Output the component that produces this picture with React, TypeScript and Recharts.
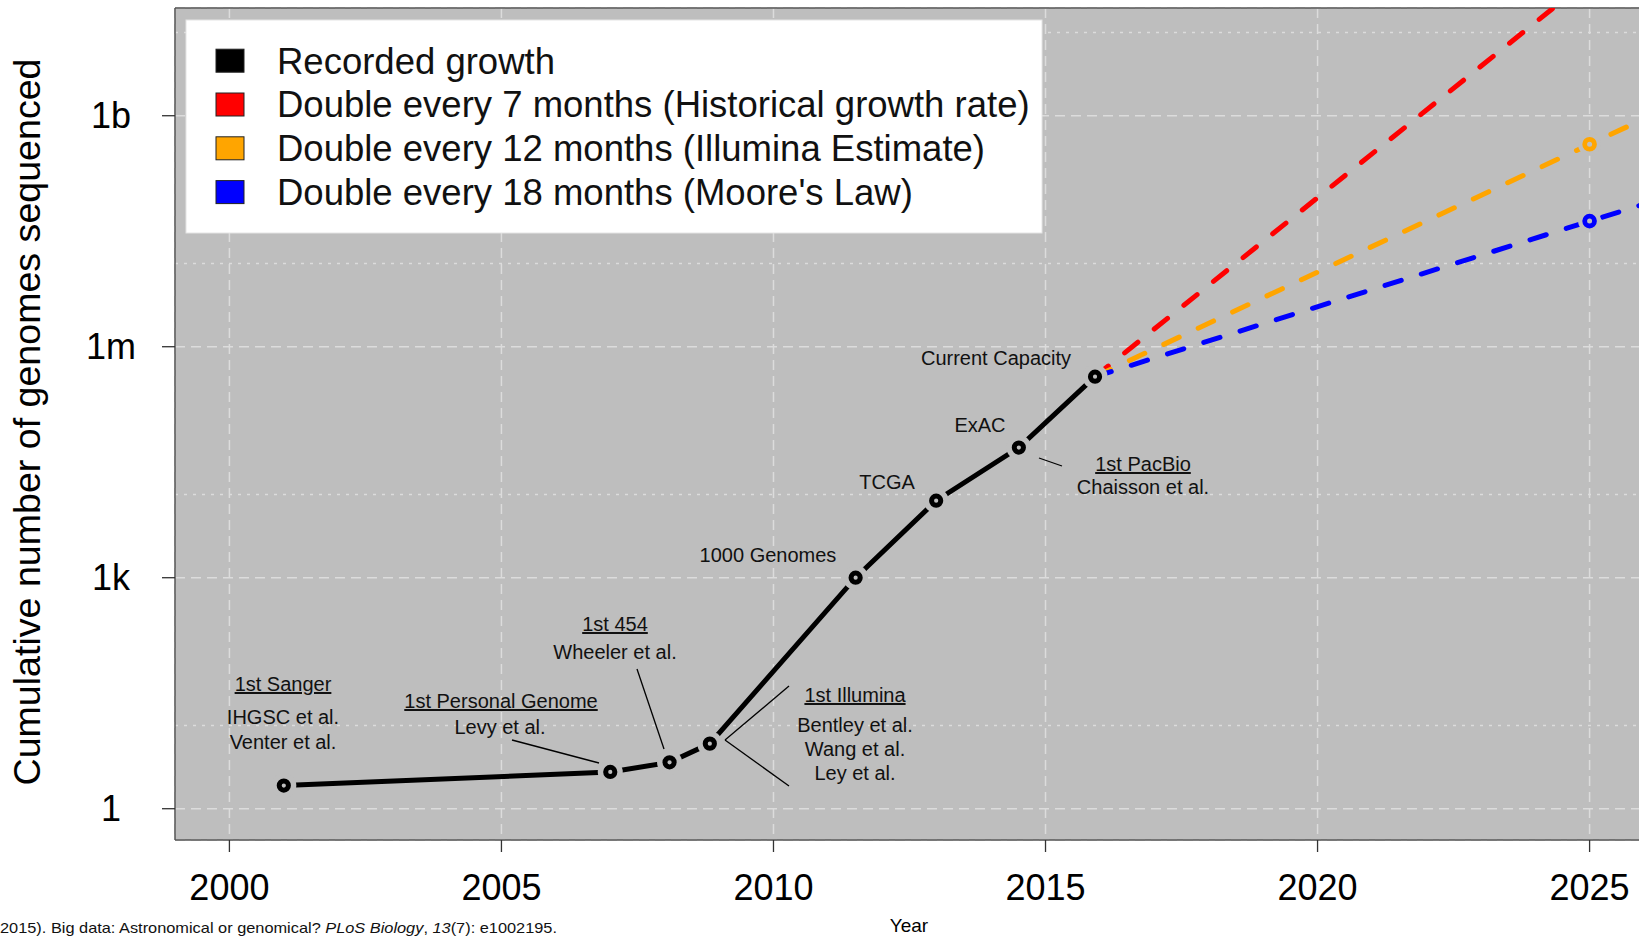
import React from 'react'
import { LineChart, Line, XAxis, YAxis, CartesianGrid, ReferenceLine } from 'recharts'

// recorded growth (cumulative genomes)
const recordedYears = [2001, 2007, 2008.09, 2008.83, 2011.51, 2012.99, 2014.51, 2015.91]
const recordedGenomes = [2, 3, 4, 7, 1000, 10000, 49000, 408000]

// projections from current capacity
const projectionYears = [2015.91, 2025, 2026]
const double7 = [408000, 6.0e10, 2.2e11]
const double12 = [408000, 4.26e8, 9.1e8]
const double18 = [408000, 4.28e7, 7.1e7]

const yearTicks = [2000, 2005, 2010, 2015, 2020, 2025]
const genomeTicks = [1, 1e3, 1e6, 1e9]
const genomeTickLabels = ['1', '1k', '1m', '1b']
const minorLevels = [12, 12e3, 12e6, 12e9]

const legendLabels = [
  'Recorded growth',
  'Double every 7 months (Historical growth rate)',
  'Double every 12 months (Illumina Estimate)',
  "Double every 18 months (Moore's Law)",
]
const legendColors = ['#000000', '#FF0000', '#FFA500', '#0000FF']

const FONT = '"Liberation Sans", Arial, Helvetica, sans-serif'
const PANEL = '#BEBEBE'
const GRID = '#DCDCDC'
const Y_MIN = 0.3923
const Y_MAX = 2.506e10
const MARK_YEAR = projectionYears[1]

const recorded = recordedYears.map((year, i) => ({ year, value: recordedGenomes[i] }))
const toSeries = (vals: number[]) => projectionYears.map((year, i) => ({ year, value: vals[i] }))

const notes = [
  { text: '1st Sanger', x: 283, y: 691, u: true },
  { text: 'IHGSC et al.', x: 283, y: 724 },
  { text: 'Venter et al.', x: 283, y: 749 },
  { text: '1st Personal Genome', x: 501, y: 708, u: true },
  { text: 'Levy et al.', x: 500, y: 734 },
  { text: '1st 454', x: 615, y: 631, u: true },
  { text: 'Wheeler et al.', x: 615, y: 659 },
  { text: '1st Illumina', x: 855, y: 702, u: true },
  { text: 'Bentley et al.', x: 855, y: 732 },
  { text: 'Wang et al.', x: 855, y: 756 },
  { text: 'Ley et al.', x: 855, y: 780 },
  { text: '1000 Genomes', x: 768, y: 562 },
  { text: 'TCGA', x: 887, y: 489 },
  { text: 'ExAC', x: 980, y: 432 },
  { text: 'Current Capacity', x: 996, y: 365 },
  { text: '1st PacBio', x: 1143, y: 471, u: true },
  { text: 'Chaisson et al.', x: 1143, y: 494 },
]

const leaders = [
  [512, 740, 599, 763],
  [637, 669, 664, 749],
  [789, 686, 725, 740],
  [725, 740, 789, 786],
  [1039, 458, 1062, 466],
]

const RecordedDot = (props: any) => {
  const { cx, cy, key } = props
  return (
    <g key={key}>
      <circle cx={cx} cy={cy} r={12.5} fill={PANEL} />
      <circle cx={cx} cy={cy} r={4.6} fill="none" stroke="#000" strokeWidth={5} />
    </g>
  )
}

const ringDot = (color: string) => (props: any) => {
  const { cx, cy, key, payload } = props
  if (payload.year !== MARK_YEAR) return <g key={key} />
  return (
    <g key={key}>
      <circle cx={cx} cy={cy} r={11.5} fill={PANEL} />
      <circle cx={cx} cy={cy} r={4.9} fill="none" stroke={color} strokeWidth={4.8} />
    </g>
  )
}

const XTick = (props: any) => {
  const { x, y, payload } = props
  return (
    <text x={x} y={y + 48} textAnchor="middle" fontSize={36} fontFamily={FONT} fill="#000">
      {payload.value}
    </text>
  )
}

const YTick = (props: any) => {
  const { x, y, payload } = props
  const i = genomeTicks.indexOf(payload.value)
  return (
    <text x={x - 51} y={y + 12} textAnchor="middle" fontSize={36} fontFamily={FONT} fill="#000">
      {genomeTickLabels[i]}
    </text>
  )
}

export default function App() {
  return (
    <div
      style={{
        position: 'absolute',
        left: 0,
        top: 0,
        width: 1639,
        height: 938,
        overflow: 'hidden',
        background: '#fff',
      }}
    >
      <LineChart width={1644} height={938} margin={{ top: 8, right: 0, bottom: 0, left: 0 }}>
        <CartesianGrid fill={PANEL} fillOpacity={1} stroke={GRID} strokeWidth={1.5} strokeDasharray="10 6" />
        {minorLevels.map((v) => (
          <ReferenceLine key={v} y={v} stroke={GRID} strokeWidth={1.5} strokeDasharray="3 6" />
        ))}
        <ReferenceLine y={Y_MAX} stroke="#555" strokeWidth={1.5} />
        <XAxis
          dataKey="year"
          type="number"
          domain={[1999, 2026]}
          ticks={yearTicks}
          allowDataOverflow
          height={98}
          tickSize={12}
          tickMargin={0}
          tick={XTick}
          tickLine={{ stroke: '#333', strokeWidth: 1.3 }}
          axisLine={{ stroke: '#555', strokeWidth: 1.5 }}
        />
        <YAxis
          dataKey="value"
          type="number"
          scale="log"
          domain={[Y_MIN, Y_MAX]}
          ticks={genomeTicks}
          allowDataOverflow
          width={175}
          tickSize={13}
          tickMargin={0}
          tick={YTick}
          tickLine={{ stroke: '#333', strokeWidth: 1.3 }}
          axisLine={{ stroke: '#555', strokeWidth: 1.5 }}
        />
        <Line
          data={toSeries(double7)}
          dataKey="value"
          type="linear"
          stroke="#FF0000"
          strokeWidth={5}
          strokeDasharray="17 21"
          strokeLinecap="round"
          dot={ringDot('#FF0000')}
          activeDot={false}
          isAnimationActive={false}
        />
        <Line
          data={toSeries(double12)}
          dataKey="value"
          type="linear"
          stroke="#FFA500"
          strokeWidth={5}
          strokeDasharray="17 21"
          strokeLinecap="round"
          dot={ringDot('#FFA500')}
          activeDot={false}
          isAnimationActive={false}
        />
        <Line
          data={toSeries(double18)}
          dataKey="value"
          type="linear"
          stroke="#0000FF"
          strokeWidth={5}
          strokeDasharray="17 21"
          strokeLinecap="round"
          dot={ringDot('#0000FF')}
          activeDot={false}
          isAnimationActive={false}
        />
        <Line
          data={recorded}
          dataKey="value"
          type="linear"
          stroke="#000"
          strokeWidth={5}
          strokeLinecap="round"
          dot={RecordedDot}
          activeDot={false}
          isAnimationActive={false}
        />
      </LineChart>

      <svg
        width={1639}
        height={938}
        style={{ position: 'absolute', left: 0, top: 0, pointerEvents: 'none' }}
        fontFamily={FONT}
      >
        {/* legend */}
        <rect x={186} y={20} width={856} height={213} fill="#fff" stroke="#e4e4e4" />
        {legendLabels.map((label, i) => {
          const cy = 60.7 + i * 43.8
          return (
            <g key={label}>
              <rect x={216} y={cy - 11.5} width={28} height={23} fill={legendColors[i]} stroke="#222" strokeWidth={1} />
              <text x={277} y={cy + 12.9} fontSize={36.5} fill="#111">
                {label}
              </text>
            </g>
          )
        })}

        {/* annotations */}
        {leaders.map((l, i) => (
          <line key={i} x1={l[0]} y1={l[1]} x2={l[2]} y2={l[3]} stroke="#000" strokeWidth={1.3} />
        ))}
        {notes.map((n) => (
          <text
            key={n.text}
            x={n.x}
            y={n.y}
            textAnchor="middle"
            fontSize={20}
            fill="#111"
            style={n.u ? { textDecoration: 'underline' } : undefined}
          >
            {n.text}
          </text>
        ))}

        {/* axis titles */}
        <text
          x={40}
          y={422}
          transform="rotate(-90 40 422)"
          textAnchor="middle"
          fontSize={37.6}
          fill="#000"
        >
          Cumulative number of genomes sequenced
        </text>
        <text x={909} y={932} textAnchor="middle" fontSize={19} fill="#000">
          Year
        </text>

        {/* citation */}
        <text x={0} y={933} fontSize={15} fill="#111" textLength={557} lengthAdjust="spacingAndGlyphs">
          2015). Big data: Astronomical or genomical? <tspan fontStyle="italic">PLoS Biology</tspan>,{' '}
          <tspan fontStyle="italic">13</tspan>(7): e1002195.
        </text>
      </svg>
    </div>
  )
}
